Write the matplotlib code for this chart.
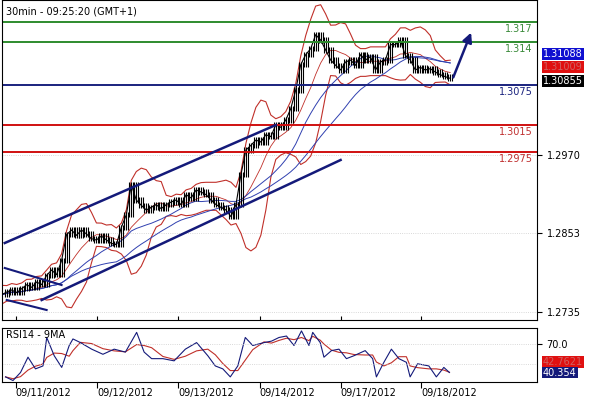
import numpy as np
import pandas as pd
import matplotlib
matplotlib.use("Agg")
import matplotlib.pyplot as plt

# closes sampled every ~3 bars (30min bars), 09/11 .. 09/18
closes = [1.2761, 1.2765, 1.2768, 1.2764, 1.2770, 1.2776, 1.2772, 1.2780, 1.2776, 1.2790,
          1.2798, 1.2791, 1.2812, 1.2851, 1.2858, 1.2850, 1.2858, 1.2852, 1.2845, 1.2843,
          1.2849, 1.2843, 1.2838, 1.2836, 1.2862, 1.2881, 1.2926, 1.2903, 1.2895, 1.2888,
          1.2892, 1.2896, 1.2890, 1.2896, 1.2900, 1.2903, 1.2896, 1.2911, 1.2906, 1.2918,
          1.2915, 1.2911, 1.2903, 1.2896, 1.2892, 1.2888, 1.2878, 1.2896, 1.2941, 1.2978,
          1.2985, 1.2993, 1.2990, 1.3001, 1.2998, 1.3016, 1.3012, 1.3023, 1.3040, 1.3068,
          1.3106, 1.3121, 1.3130, 1.3151, 1.3143, 1.3128, 1.3113, 1.3105, 1.3098, 1.3110,
          1.3113, 1.3105, 1.3121, 1.3113, 1.3118, 1.3098, 1.3110, 1.3113, 1.3136, 1.3136,
          1.3143, 1.3120, 1.3113, 1.3098, 1.3102, 1.3098, 1.3100, 1.3095, 1.3091, 1.3088,
          1.30855]
rsi = [25, 20, 31, 52, 36, 40, 79, 54, 38, 68, 77, 72, 63, 56, 63, 59, 86, 59, 50, 50,
       47, 63, 72, 54, 40, 36, 25, 40, 79, 68, 72, 74, 79, 81, 68, 88, 68, 86, 72, 52,
       61, 63, 50, 54, 61, 50, 25, 45, 63, 50, 45, 25, 43, 40, 25, 38, 31]
rsi_x = [10, 30, 50, 70, 90, 110, 120, 140, 160, 180, 190, 210, 240, 270, 300, 330, 360, 380, 400, 430,
         460, 490, 520, 550, 570, 590, 610, 630, 650, 670, 700, 720, 740, 760, 780, 800, 820, 830, 850, 860,
         880, 900, 920, 940, 970, 990, 1000, 1020, 1040, 1060, 1080, 1090, 1110, 1140, 1160, 1180, 1195]
days = ["09/11/2012", "09/12/2012", "09/13/2012", "09/14/2012", "09/17/2012", "09/18/2012"]
day_ticks = [14, 96, 177, 259, 340, 421]  # pixel positions
levels = [1.317, 1.314, 1.3075, 1.3015, 1.2975]
level_colors = ["#2e8b2e", "#2e8b2e", "#1a237e", "#d01010", "#d01010"]
level_text = ["#3a8a3a", "#3a8a3a", "#1a237e", "#c03030", "#c03030"]

NAVY = "#141a7a"
fig = plt.figure(figsize=(5.9, 4.0), dpi=100)
ax = fig.add_axes([0.003, 0.2, 0.907, 0.8])
ax2 = fig.add_axes([0.003, 0.045, 0.907, 0.135])

x = np.arange(len(closes)) * 5.0
s = pd.Series(closes)
mid = s.rolling(7, min_periods=1).mean()
sd = s.rolling(7, min_periods=2).std().fillna(0.0004) + 0.0003
ax.plot(x, mid + 2 * sd, color="#c0302a", lw=0.8)
ax.plot(x, mid - 2 * sd, color="#c0302a", lw=0.8)
ax.plot(x, mid, color="#c0302a", lw=0.6)
ax.plot(x, s.rolling(14, min_periods=1).mean(), color="#3040b0", lw=0.7)
ax.plot(x, s.rolling(24, min_periods=1).mean(), color="#3040b0", lw=0.7)
for i in range(1, len(closes)):
    lo, hi = sorted([closes[i - 1], closes[i]])
    ax.vlines([x[i] - 2, x[i], x[i] + 2], lo - 0.0004, hi + 0.0004, color="black", lw=0.8)
ax.plot(x, closes, color="black", lw=0.8)

for lv, c, tc in zip(levels, level_colors, level_text):
    ax.axhline(lv, color=c, lw=1.4)
    ax.text(533, lv - 0.0003, f"{lv}", color=tc, fontsize=7, ha="right", va="top")

def py(p):  # pixel y -> price
    return 1.3203 - p / 6667
ax.plot([3, 275], [py(243), py(125)], color=NAVY, lw=1.8)
ax.plot([40, 340], [py(300), py(160)], color=NAVY, lw=1.8)
ax.plot([3, 60], [py(268), py(285)], color=NAVY, lw=1.5)
ax.plot([5, 45], [py(300), py(310)], color=NAVY, lw=1.5)
ax.annotate("", xy=(472, py(30)), xytext=(452, py(80)),
            arrowprops=dict(arrowstyle="-|>", color=NAVY, lw=1.8, mutation_scale=14))

ax.set_xlim(0, 537)
ax.set_ylim(py(320), py(0))
ax.yaxis.tick_right()
ax.set_yticks([1.2970, 1.2853, 1.2735])
ax.set_yticklabels(["1.2970", "1.2853", "1.2735"], fontsize=7)
ax.set_xticks(day_ticks)
ax.set_xticklabels([])
ax.tick_params(axis="x", length=3, direction="in")
ax.grid(axis="y", ls=":", color="#cccccc", lw=0.6)
ax.text(4, py(6), "30min - 09:25:20 (GMT+1)", fontsize=7, va="top")
# price boxes, stacked as in the chart's label column
for val, fc, ypix in [(1.31088, "#1010d0", 54), (1.31009, "#e01010", 67), (1.30855, "black", 81)]:
    ax.text(543, py(ypix), f"{val:.5f}", fontsize=7, color="white" if fc != "#e01010" else "#d06060",
            va="center", ha="left", bbox=dict(boxstyle="square,pad=0.1", fc=fc, ec="none"))

rx = np.array(rsi_x) / 2.66
r = pd.Series(rsi)
ax2.plot(rx, r.rolling(3, min_periods=1).mean(), color="#c0302a", lw=0.8)
ax2.plot(rx, rsi, color=NAVY, lw=0.8)
ax2.axhline(70, ls=":", color="#cccccc", lw=0.6)
ax2.axhline(42.76, ls=":", color="#cccccc", lw=0.6)
ax2.set_xlim(0, 537)
ax2.set_ylim(18, 92)
ax2.yaxis.tick_right()
ax2.set_yticks([70])
ax2.set_yticklabels(["70.0"], fontsize=7)
ax2.set_xticks(day_ticks)
ax2.set_xticklabels(days, fontsize=7, ha="left")
ax2.tick_params(axis="x", length=4, pad=0)
ax2.text(4, 89, "RSI14 - 9MA", fontsize=7, va="top")
ax2.text(543, 45, "42.7621", fontsize=7, color="#d06060", va="center",
         bbox=dict(boxstyle="square,pad=0.1", fc="#e01010", ec="none"))
ax2.text(543, 31, "40.354", fontsize=7, color="white", va="center",
         bbox=dict(boxstyle="square,pad=0.1", fc=NAVY, ec="none"))
fig.savefig("out.png", dpi=100)
